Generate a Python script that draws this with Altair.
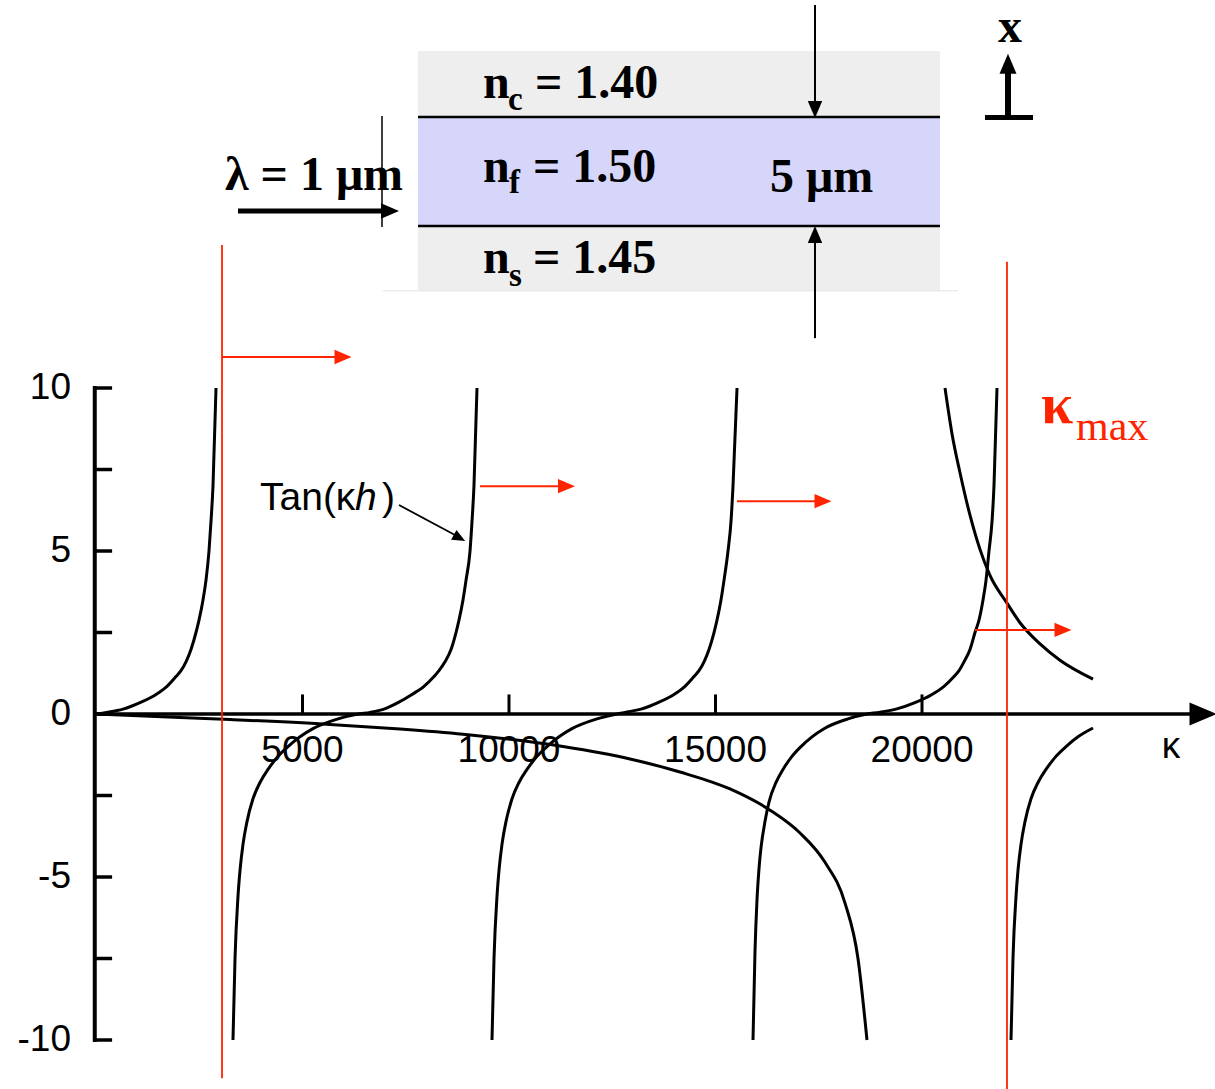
import altair as alt
import pandas as pd

# ---------------------------------------------------------------------------
# Curves of the eigenvalue equation (kappa in 1/cm, dimensionless value)
# tan(kappa*h) branches
tan1_kappa = [0, 266, 654, 1065, 1453, 1719, 1937, 2058, 2179, 2300, 2421, 2494, 2591,
              2663, 2736, 2784, 2833, 2906]
tan1_value = [0, 0.05, 0.15, 0.35, 0.6, 0.85, 1.15, 1.33, 1.6, 1.98, 2.5, 2.88, 3.5,
              4.1, 5.0, 5.9, 7.0, 10]

tan2_kappa = [3317, 3366, 3438, 3487, 3559, 3656, 3801, 3971, 4165, 4407, 4649, 4939,
              5254, 5860, 6344,
              6634, 6973, 7312, 7651, 7942, 8184, 8305, 8450, 8596, 8717, 8789, 8886,
              8959, 9056, 9104, 9152, 9225]
tan2_value = [-10, -7.5, -5.6, -4.8, -4.0, -3.3, -2.6, -2.1, -1.7, -1.3, -1.0, -0.7,
              -0.45, -0.15, 0,
              0.05, 0.15, 0.35, 0.6, 0.85, 1.15, 1.33, 1.6, 1.98, 2.5, 2.88, 3.5,
              4.1, 5.0, 5.9, 7.0, 10]

tan3_kappa = [9588, 9637, 9709, 9758, 9830, 9927, 10073, 10242, 10436, 10678, 10920,
              11211, 11525, 12131, 12615,
              12809, 13196, 13608, 13995, 14261, 14479, 14600, 14722, 14843, 14964,
              15036, 15133, 15206, 15303, 15375, 15424, 15521]
tan3_value = [-10, -7.5, -5.6, -4.8, -4.0, -3.3, -2.6, -2.1, -1.7, -1.3, -1.0,
              -0.7, -0.45, -0.15, 0,
              0.05, 0.15, 0.35, 0.6, 0.85, 1.15, 1.33, 1.6, 1.98, 2.5,
              2.88, 3.5, 4.1, 5.0, 5.9, 7.0, 10]

tan4_kappa = [15908, 15956, 16005, 16053, 16102, 16198, 16295, 16465, 16634, 16852,
              17070, 17337, 17627, 18208, 18668,
              18959, 19370, 19830, 20242, 20533, 20775, 20896, 21017, 21162, 21283,
              21380, 21477, 21550, 21622, 21695, 21743, 21816]
tan4_value = [-10, -7.3, -5.7, -4.75, -4.1, -3.3, -2.7, -2.1, -1.7, -1.3,
              -1.0, -0.7, -0.45, -0.15, 0,
              0.05, 0.15, 0.35, 0.6, 0.85, 1.15, 1.33, 1.6, 1.98, 2.5,
              2.88, 3.5, 4.1, 5.0, 5.9, 7.0, 10]

tan5_kappa = [22155, 22203, 22276, 22324, 22397, 22494, 22639, 22809, 23002, 23244,
              23487, 23777, 24140]
tan5_value = [-10, -7.5, -5.6, -4.8, -4.0, -3.3, -2.6, -2.1, -1.7, -1.3,
              -1.0, -0.7, -0.43]

# right-hand side of the equation, two branches around its pole
rhs1_kappa = [0, 1308, 3245, 5666, 7361, 8886, 11307, 12930, 14140, 15351, 16320,
              17046, 17651, 18136, 18450, 18668]
rhs1_value = [0, -0.07, -0.17, -0.32, -0.46, -0.62, -1.0, -1.38, -1.78, -2.3, -2.95,
              -3.65, -4.55, -5.8, -7.5, -10]

rhs2_kappa = [20557, 20726, 20920, 21162, 21404, 21646, 22058, 22373, 22857, 23341, 24140]
rhs2_value = [10, 8.6, 7.4, 6.1, 5.05, 4.25, 3.4, 2.8, 2.15, 1.65, 1.07]

# axis ticks and labels
y_tick_values = [10, 7.5, 5, 2.5, 0, -2.5, -5, -7.5, -10]
y_label_values = [10, 5, 0, -5, -10]
y_label_texts = ["10", "5", "0", "-5", "-10"]
x_tick_values = [5000, 10000, 15000, 20000]
x_label_texts = ["5000", "10000", "15000", "20000"]

# kappa_max marker and the red "mode" arrows
kappa_max = 22058
cutoff_line = 3051
mode_arrow_start = [3051, 9298, 15521, 21283]
mode_arrow_end = [5811, 11235, 17409, 23220]
mode_arrow_head = [5981, 11392, 17603, 23414]
mode_arrow_level = [10.95, 6.99, 6.53, 2.58]

RED = "#fe2400"
ARROW = "M-1,-0.85L1,0L-1,0.85Z"

# ---------------------------------------------------------------------------
XS = alt.Scale(domain=[-2324.4, 27094.3], nice=False, zero=False)
YS = alt.Scale(domain=[-11.503, 21.902], nice=False, zero=False)


def xq(f):
    return alt.X(f, type="quantitative", scale=XS, axis=None)


def yq(f):
    return alt.Y(f, type="quantitative", scale=YS, axis=None)


# curves table
rows = []
for name, ks, vs in [("tan1", tan1_kappa, tan1_value), ("tan2", tan2_kappa, tan2_value),
                     ("tan3", tan3_kappa, tan3_value), ("tan4", tan4_kappa, tan4_value),
                     ("tan5", tan5_kappa, tan5_value), ("rhs1", rhs1_kappa, rhs1_value),
                     ("rhs2", rhs2_kappa, rhs2_value)]:
    for i, (k, v) in enumerate(zip(ks, vs)):
        rows.append({"branch": name, "seq": i, "kappa": k, "value": v})
curves = pd.DataFrame(rows)

# waveguide layers: cover, film, substrate
layers = pd.DataFrame({
    "x": [7797, 7797, 7797], "x2": [20436, 20436, 20436],
    "y": [20.34, 18.31, 14.97], "y2": [18.31, 14.97, 12.98],
    "fill": ["#eeeeee", "#d5d6fa", "#eeeeee"],
})

# black line segments: layer boundaries, arrows of the sketch, plot axes
seg = []


def add_seg(x, y, x2, y2, w, c="black"):
    seg.append({"x": x, "y": y, "x2": x2, "y2": y2, "w": w, "c": c})


add_seg(7797, 18.31, 20436, 18.31, 2.5)
add_seg(7797, 14.97, 20436, 14.97, 2.5)
add_seg(6949, 12.98, 20872, 12.98, 1, "#e2e2e2")
add_seg(6925, 18.34, 6925, 14.94, 1.5)
add_seg(3438, 15.43, 6973, 15.43, 5)
add_seg(17409, 21.75, 17409, 18.71, 2)
add_seg(17409, 14.54, 17409, 11.53, 2)
add_seg(22082, 18.31, 22082, 19.75, 6)
add_seg(21525, 18.30, 22688, 18.30, 5)
# plot axes
add_seg(-30, 10.06, -30, -10.06, 4)
for t in y_tick_values:
    add_seg(-30, t, 390, t, 3.5)
add_seg(-30, 0, 26610, 0, 3.5)
for t in x_tick_values:
    add_seg(t, 0, t, 0.6, 3)
# pointer of the Tan label
add_seg(7337, 6.41, 8692, 5.49, 1.8)
segments = pd.DataFrame(seg)

red = []
red.append({"x": cutoff_line, "y": 14.39, "x2": cutoff_line, "y2": -11.17, "w": 1.8, "c": RED})
red.append({"x": kappa_max, "y": 13.87, "x2": kappa_max, "y2": -11.5, "w": 1.8, "c": RED})
for a, b, lv in zip(mode_arrow_start, mode_arrow_end, mode_arrow_level):
    red.append({"x": a, "y": lv, "x2": b, "y2": lv, "w": 2, "c": RED})
red_segments = pd.DataFrame(red)

heads = []
for hx, lv in zip(mode_arrow_head, mode_arrow_level):
    heads.append({"x": hx, "y": lv, "angle": 0, "s": 289, "c": RED})
heads += [
    {"x": 7119, "y": 15.43, "angle": 0, "s": 324, "c": "black"},
    {"x": 17409, "y": 18.54, "angle": 90, "s": 289, "c": "black"},
    {"x": 17409, "y": 14.71, "angle": 270, "s": 289, "c": "black"},
    {"x": 22082, "y": 19.95, "angle": 270, "s": 400, "c": "black"},
    {"x": 26804, "y": 0, "angle": 0, "s": 729, "c": "black"},
    {"x": 8801, "y": 5.40, "angle": 29, "s": 169, "c": "black"},
]
arrowheads = pd.DataFrame(heads)

# ---------------------------------------------------------------------------
rect_layer = alt.Chart(layers).mark_rect(strokeWidth=0).encode(
    x=xq("x"), x2="x2", y=yq("y"), y2="y2", color=alt.Color("fill:N", scale=None))


def rule_layer(df):
    return alt.Chart(df).mark_rule(strokeCap="butt").encode(
        x=xq("x"), x2="x2", y=yq("y"), y2="y2",
        color=alt.Color("c:N", scale=None), size=alt.Size("w:Q", scale=None))


curve_layer = alt.Chart(curves).mark_line(
    color="black", strokeWidth=3, interpolate="monotone").encode(
    x=xq("kappa"), y=yq("value"), detail="branch:N", order="seq:Q")

head_layer = alt.Chart(arrowheads).mark_point(
    shape=ARROW, filled=True, opacity=1, strokeWidth=0).encode(
    x=xq("x"), y=yq("y"), color=alt.Color("c:N", scale=None),
    size=alt.Size("s:Q", scale=None), angle=alt.Angle("angle:Q", scale=None))


def text_layer(items, font, size, weight="normal", style="normal",
               align="left", baseline="alphabetic", color="black"):
    df = pd.DataFrame(items, columns=["x", "y", "t"])
    return alt.Chart(df).mark_text(
        font=font, fontSize=size, fontWeight=weight, fontStyle=style,
        align=align, baseline=baseline, color=color).encode(
        x=xq("x"), y=yq("y"), text="t:N")


SERIF = "Liberation Serif"
SANS = "Liberation Sans"

sketch_text = text_layer([
    (3123, 16.07, "λ = 1 μm"),
    (9370, 18.90, "n"), (10629, 18.90, "= 1.40"),
    (9370, 16.32, "n"), (10581, 16.32, "= 1.50"),
    (9370, 13.53, "n"), (10581, 13.53, "= 1.45"),
    (16320, 16.01, "5 μm"),
    (21840, 20.61, "x"),
], SERIF, 48, weight="bold")

sketch_sub = text_layer([
    (9976, 18.53, "c"), (10000, 15.98, "f"), (10000, 13.13, "s"),
], SERIF, 33, weight="bold")

y_labels = text_layer([(-605, v, t) for v, t in zip(y_label_values, y_label_texts)],
                      SANS, 37, align="right", baseline="middle")
x_labels = text_layer([(v, -1.47, t) for v, t in zip(x_tick_values, x_label_texts)],
                      SANS, 37, align="center")
x_title = text_layer([(26029, -1.35, "κ")], SANS, 37, align="center")
tan_label = text_layer([(3971, 6.26, "Tan(κ"), (6925, 6.26, ")")], SANS, 39)
tan_h = text_layer([(6271, 6.26, "h")], SANS, 39, style="italic")

kmax_k = text_layer([(22882, 8.93, "κ")], SERIF, 58, weight="bold", color=RED)
kmax_sub = text_layer([(23729, 8.40, "max")], SERIF, 42, color=RED)

chart = alt.layer(
    rect_layer,
    rule_layer(segments),
    curve_layer,
    rule_layer(red_segments),
    head_layer,
    sketch_text, sketch_sub,
    y_labels, x_labels, x_title, tan_label, tan_h,
    kmax_k, kmax_sub,
).properties(
    width=1215, height=1089, autosize="none", padding=0, background="white"
).configure_view(stroke=None)

chart.save("out.html", embed_options={"renderer": "svg", "actions": False})
